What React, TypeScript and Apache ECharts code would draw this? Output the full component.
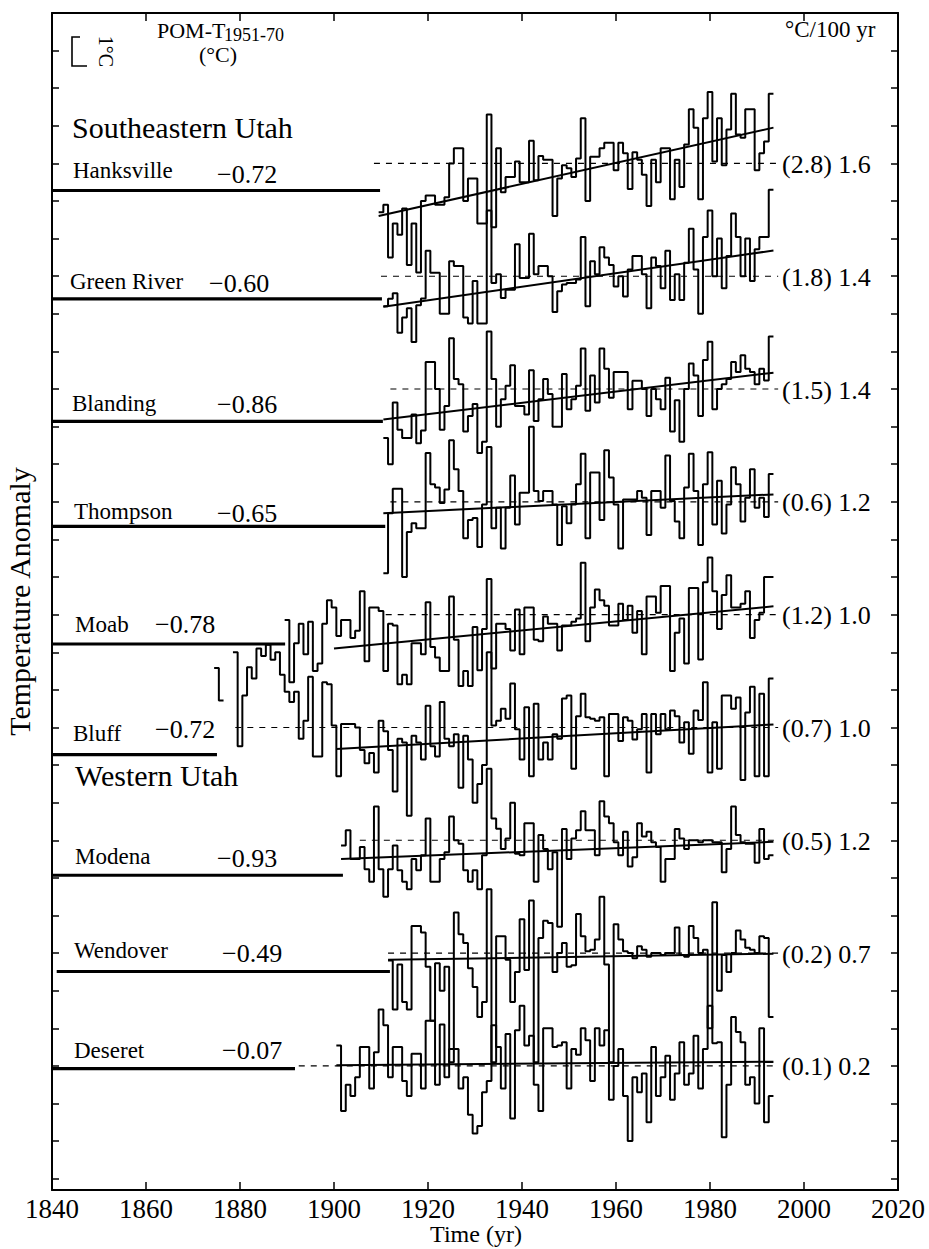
import React, { useEffect, useRef } from "react";
import * as echarts from "echarts";

const FONT = '"Liberation Serif", "Times New Roman", Times, serif';

// ---------- axes ----------
const X_MIN = 1840;
const X_MAX = 2020;
const X_STEP = 20;
const Y_MIN = -0.3;
const Y_MAX = 31; // 1 unit = 1 degC
const Y_TICKS = Array.from({ length: 32 }, (_, k) => k);
const X_TITLE = "Time (yr)";
const Y_TITLE = "Temperature Anomaly";

// ---------- stations ----------
const stationNames = ["Hanksville", "Green River", "Blanding", "Thompson", "Moab", "Bluff", "Modena", "Wendover", "Deseret"];
const stationLevels = [27, 24, 21, 18, 15, 12, 9, 6, 3]; // offset of each station's 1951-70 mean
const pomValues = [-0.72, -0.6, -0.86, -0.65, -0.78, -0.72, -0.93, -0.49, -0.07];
const pomLabels = ["\u22120.72", "\u22120.60", "\u22120.86", "\u22120.65", "\u22120.78", "\u22120.72", "\u22120.93", "\u22120.49", "\u22120.07"];
const pomFrom = [1840, 1840, 1840, 1840, 1840, 1840, 1840, 1841, 1840];
const pomTo = [1909.8, 1910.2, 1910.4, 1910.9, 1889.6, 1875.1, 1901.9, 1911.9, 1891.7];
const meanFrom = [1908.5, 1910, 1912, 1912, 1911, 1879, 1905.5, 1911.5, 1892.5];
const meanTo = 1994.5;
const trendRates = [2.8, 1.8, 1.5, 0.6, 1.2, 0.7, 0.5, 0.2, 0.1];
const secondNumbers = ["1.6", "1.4", "1.4", "1.2", "1.0", "1.0", "1.2", "0.7", "0.2"];
const trendFrom = [1909.5, 1910.5, 1910.5, 1910.5, 1900, 1900.5, 1901.5, 1911.5, 1900.5];
const trendFromValue = [-1.4, -0.81, -0.81, -0.3, -0.9, -0.57, -0.5, -0.18, 0.02];
const trendTo = 1993.5;
const firstYears = [1910, 1911, 1911, 1911, 1890, 1875, 1902, 1912, 1901];

// yearly anomalies (degC, relative to 1951-70 mean)
const hanksville = [
  -1.3, -1.1, -2.5, -1.6, -1.9, -1.2, -2.7, -1.6, -2.9, -1.0,
  -0.85, -0.85, -1.1, -1.1, -0.9, 0.0, 0.4, 0.4, -1.0, -0.4,
  -0.4, -1.6, -1.6, 1.3, -1.7, 0.4, -0.77, -0.36, -0.36, 0.05,
  -0.5, -0.5, 0.6, -0.45, 0.2, 0.1, 0.1, -1.4, -0.4, -0.05,
  -0.13, -0.36, 0.13, 1.2, -1.0, 0.18, 0.18, 0.4, 0.55, 0.55,
  -0.18, 0.55, 0.27, -0.68, 0.3, 0.1, -0.3, -1.13, 0.1, -0.5,
  0.4, 0.4, -0.95, 0.1, -0.63, 0.5, 1.44, 0.95, -0.95, 1.2,
  1.9, 0.05, 1.2, -0.05, 0.9, 1.85, 0.77, 0.68, 1.44, 1.44,
  -0.18, 0.27, 0.58, 1.85,
];
const greenRiver = [
  -0.8, -0.6, -0.45, -1.5, -1.1, -0.85, -1.75, -0.77, -0.59, 0.68,
  0.09, 0.09, -1.0, -1.0, 0.4, 0.27, 0.27, -1.1, -1.26, -0.13,
  -1.26, -1.26, 1.75, -0.18, 0.05, -0.58, -0.36, -0.36, 0.85, -0.05,
  -0.05, 1.13, 0.05, 0.27, 0.27, 0.0, -0.95, -0.4, -0.22, -0.18,
  -0.18, -0.09, 1.04, -0.8, 0.4, 0.05, 0.77, 0.5, 0.3, -0.27,
  0.0, -0.54, 0.18, 0.54, 0.54, 0.05, -0.85, 0.5, 0.27, -0.32,
  0.68, -0.63, 0.05, -0.63, 0.36, 1.26, 0.18, -1.0, 1.04, 1.75,
  0.0, 1.0, -0.32, 0.54, 1.67, 1.04, 0.0, 1.0, -0.13, 0.72,
  1.04, 1.04, 2.3,
];
const blanding = [
  -1.3, -2.0, -0.36, -1.08, -1.3, -1.3, -0.68, -1.44, -1.1, 0.72,
  0.72, 0.0, -1.08, -0.45, 1.35, 0.27, 0.13, -1.13, -0.72, -0.4,
  -1.7, -1.4, 1.53, 0.27, -1.0, -0.27, 0.09, 0.63, -0.45, -0.45,
  -0.68, 0.5, -0.85, -0.27, 0.27, -0.13, -1.0, -1.0, 0.4, -0.54,
  -0.27, 0.09, 1.08, -0.58, 0.36, -0.36, 1.08, 0.54, -0.23, 0.45,
  0.45, 0.45, -0.54, 0.22, 0.22, 0.0, -0.72, 0.0, -0.27, -0.54,
  0.3, -1.13, -0.3, -1.4, 0.0, 0.68, 0.36, -0.72, 0.77, 1.26,
  -0.54, 0.0, 0.13, 0.27, 0.72, 0.45, 0.9, 0.54, 0.45, 0.13,
  0.54, 0.23, 1.4,
];
const thompson = [
  -1.9, -0.3, 0.35, 0.35, -2.0, -0.8, -0.57, -0.7, -0.7, 1.3,
  0.47, 0.38, -0.03, 0.33, 1.64, 0.87, 0.29, -0.97, -0.48, -0.43,
  -1.2, -0.07, 1.46, -0.7, -0.16, -1.24, -0.16, 0.7, -0.6, 0.24,
  0.24, 2.0, 0.29, 0.02, 0.29, 0.29, -0.07, -1.15, -0.12, -0.57,
  -0.07, 0.47, 1.28, -0.97, 0.78, 0.78, -0.48, 1.37, 0.65, -0.07,
  -1.24, 0.06, 0.06, 0.06, 0.29, 0.11, -0.88, 0.29, 0.29, -0.16,
  1.23, 0.02, -0.52, -0.97, 0.38, 1.28, 0.29, -1.15, 0.47, 1.32,
  -0.6, 0.56, -0.84, -0.07, 0.92, 0.47, -0.52, 0.11, 0.87, -0.16,
  0.11, -0.4, 0.74,
];
const moab = [
  -0.14, -1.8, -0.76, -0.24, -1.05, -0.19, -1.5, -1.3, -0.24, 0.38,
  0.19, -0.57, -0.14, -0.14, -0.62, -0.43, 0.62, -1.24, 0.19, 0.19,
  0.1, -1.5, -0.24, -0.29, -1.85, -1.6, -1.85, -0.76, -0.76, -1.05,
  0.33, -0.86, -1.14, -1.5, -1.5, 0.48, -0.67, -1.9, -1.5, -1.9,
  -0.33, -1.48, -0.38, 0.95, -1.43, -0.24, -0.24, -0.38, -0.95, 0.14,
  -1.05, 0.19, 0.19, -0.67, -0.71, -0.05, -0.24, -0.24, -0.95, -0.29,
  -0.29, -0.19, -0.1, 1.38, -0.71, 0.19, 0.67, 0.38, 0.24, -0.29,
  -0.29, 0.29, -0.14, 0.24, -0.48, 0.1, -1.05, 0.48, 0.48, 0.05,
  0.76, 0.76, -1.5, -0.48, -0.1, -1.3, 0.71, 0.71, -1.19, 0.86,
  1.52, 0.62, -0.38, 0.52, 1.05, 0.19, 0.19, 0.29, 0.62, -0.62,
  -0.14, 0.05, 1.0, 1.0,
];
const bluff = [
  1.58, 0.72, null, null, 2.0, -0.5, 0.85, 1.6, 1.3, 2.1,
  1.9, 2.2, 1.8, 2.0, 1.4, 0.95, 0.68, 0.95, -0.3, 0.18,
  1.35, -0.77, -0.77, 1.2, 1.15, 0.05, -1.3, 0.09, 0.09, 0.09,
  0.0, -0.6, -0.95, -0.68, -1.2, 0.18, -0.1, -0.6, -1.7, -0.3,
  -0.4, -2.35, -0.22, -0.4, -0.85, 0.58, -0.5, -0.77, 0.68, -0.3,
  -0.5, -0.18, -1.6, -0.22, -0.85, -2.0, -1.5, -1.0, 2.0, 0.05,
  0.18, 0.5, 0.23, 1.17, -0.05, -0.85, 0.54, -1.3, 0.63, -0.85,
  -0.4, -0.85, -0.18, -0.3, 0.77, 0.85, -1.1, 0.3, 0.9, 0.27,
  0.23, 0.18, 0.27, -1.3, 0.36, 0.36, -0.36, 0.27, 0.18, -0.32,
  -0.05, 0.36, -1.2, 0.36, -0.18, 0.36, -0.05, 0.45, 0.3, -0.4,
  0.14, -0.7, 0.45, 0.2, 1.2, -1.2, 0.14, -1.1, 0.85, 0.85,
  0.5, 0.8, -1.4, 0.4, 1.08, -1.3, 0.9, -1.3, 1.3,
];
const modena = [
  -0.14, 0.27, -0.5, -0.5, -0.18, -0.77, -1.1, 0.9, -0.77, -1.5,
  -0.77, -0.14, -0.8, -1.1, -1.3, -0.5, -0.8, -0.4, 0.58, -1.1,
  -1.1, -0.5, -0.32, 0.63, 0.0, -0.09, -0.8, -1.1, -0.8, -1.3,
  -0.4, 1.9, 0.58, 0.31, -0.23, 0.05, 1.0, -0.36, -0.4, 0.45,
  0.45, -1.1, 0.14, -0.23, -0.77, -0.32, -2.3, 0.3, -0.5, 0.05,
  0.27, 0.77, 0.27, 0.27, -0.4, 1.04, 0.63, 0.45, -0.05, -0.4,
  0.23, -0.7, -0.45, 0.45, 0.1, 0.23, -0.05, -0.18, -1.1, -0.5,
  -0.5, 0.3, 0.05, -0.23, 0.0, 0.0, -0.05, 0.0, 0.0, -0.05,
  -0.05, -0.85, -0.23, 0.9, 0.14, -0.05, -0.09, -0.09, -0.6, 0.3,
  -0.5, -0.4,
];
const wendover = [
  -0.2, -1.5, -0.3, -1.3, -1.5, 0.72, 0.72, 0.55, -0.36, -1.8,
  -0.27, -1.0, -0.36, -2.9, 1.08, 0.5, 0.27, -0.4, -0.9, -1.7,
  -1.3, 1.7, -2.9, 0.45, 0.45, -0.18, -1.3, -0.5, 0.9, -0.45,
  1.4, -2.9, 0.4, 0.86, 0.8, -0.5, 0.0, 0.27, -0.36, -0.32,
  1.04, 0.45, 0.05, 0.09, 0.36, 1.5, -0.3, -2.9, 0.77, 0.36,
  0.05, 0.0, -0.14, 0.18, 0.09, -0.1, 0.0, 0.0, -0.05, 0.0,
  0.0, 0.68, -0.05, -0.1, 0.72, 0.4, 0.0, 0.09, -2.0, 1.35,
  -1.0, -0.05, -0.5, 0.0, 0.6, 0.36, 0.14, 0.09, 0.0, 0.45,
  0.4, -1.7,
];
const deseret = [
  0.54, -1.2, -0.5, -0.8, -0.3, 0.5, 0.5, -0.6, 0.36, 1.5,
  1.08, -0.3, 0.5, 0.5, -0.4, -0.8, 0.32, 0.32, -0.6, 1.2,
  1.2, -0.5, 1.1, -0.3, 0.45, 0.45, -0.6, -0.3, -1.3, -1.8,
  -1.6, -0.7, -0.4, 1.08, 0.5, -0.6, 0.85, -1.4, 0.95, 1.6,
  0.54, 0.8, -0.5, -1.2, 1.0, 1.0, 0.5, 0.54, 0.63, -0.6,
  0.45, 0.3, 1.0, 0.68, -0.4, 1.0, 0.54, 0.95, -0.9, 0.0,
  0.45, -0.8, -2.0, -0.3, -0.7, -0.2, -1.5, 0.5, -0.8, -0.3,
  0.27, -0.9, -0.2, 0.63, -0.5, -0.2, 0.8, -0.6, 0.45, 1.6,
  0.6, 0.63, -1.9, -0.5, 1.3, 0.9, 0.63, -0.5, -0.3, -1.0,
  1.0, -1.5, -0.8,
];
const stationSeries = [hanksville, greenRiver, blanding, thompson, moab, bluff, modena, wendover, deseret];

// ---------- layout (pixels) ----------
const W = 929;
const H = 1249;
const GRID = { left: 52, right: 31, top: 13, bottom: 59 };
const unitPx = (H - GRID.top - GRID.bottom) / (Y_MAX - Y_MIN);
const levelPx = (v: number) => GRID.top + (Y_MAX - v) * unitPx;
const nameX = [73, 70, 72, 74, 75, 73, 75, 74, 74];
const nameY = [170, 281, 403, 511, 624, 733, 856, 950, 1050];
const pomX = [217, 209, 217, 217, 155, 155, 217, 222, 222];
const pomY = [174, 283, 404, 513, 624, 729, 858, 953, 1050];
const RIGHT_LABEL_X = 782;

function stepData(first: number, vals: (number | null)[], base: number) {
  const out: any[] = [];
  for (let i = 0; i < vals.length; i++) {
    const v = vals[i];
    const x = first + i - 0.5;
    if (v == null) {
      out.push([x, "-"]);
      continue;
    }
    out.push([x, base + v]);
    const next = vals[i + 1];
    if (i === vals.length - 1 || next == null) out.push([x + 1, base + v]);
  }
  return out;
}

function txt(text: string, x: number, y: number, size: number, extra: any = {}) {
  return {
    type: "text",
    x,
    y,
    silent: true,
    ...extra,
    style: {
      text,
      font: `${size}px ${FONT}`,
      fill: "#000",
      textAlign: "left",
      textVerticalAlign: "middle",
      verticalAlign: "middle",
      ...(extra.style || {}),
    },
  };
}

export default function App() {
  const ref = useRef<HTMLDivElement>(null);

  useEffect(() => {
    if (!ref.current) return;
    const chart = echarts.init(ref.current, null, { renderer: "svg" });
    const black = "#000";
    const series: any[] = [];

    stationNames.forEach((name, i) => {
      const base = stationLevels[i];
      series.push({
        name: name + " mean",
        type: "line",
        data: [
          [meanFrom[i], base],
          [meanTo, base],
        ],
        symbol: "none",
        silent: true,
        lineStyle: { color: black, width: 1.1, type: [6, 6] },
        z: 2,
      });
      series.push({
        name: name + " POM",
        type: "line",
        data: [
          [pomFrom[i], base + pomValues[i]],
          [pomTo[i], base + pomValues[i]],
        ],
        symbol: "none",
        silent: true,
        lineStyle: { color: black, width: 3.2 },
        z: 3,
      });
      series.push({
        name,
        type: "line",
        step: "end",
        data: stepData(firstYears[i], stationSeries[i], base),
        symbol: "none",
        silent: true,
        connectNulls: false,
        lineStyle: { color: black, width: 2 },
        z: 4,
      });
      const v0 = trendFromValue[i];
      const v1 = v0 + (trendRates[i] * (trendTo - trendFrom[i])) / 100;
      series.push({
        name: name + " trend",
        type: "line",
        data: [
          [trendFrom[i], base + v0],
          [trendTo, base + v1],
        ],
        symbol: "none",
        silent: true,
        lineStyle: { color: black, width: 2 },
        z: 5,
      });
    });

    const graphics: any[] = [];
    stationNames.forEach((name, i) => {
      graphics.push(txt(name, nameX[i], nameY[i], 23));
      graphics.push(txt(pomLabels[i], pomX[i], pomY[i], 26));
      graphics.push(
        txt(`(${trendRates[i].toFixed(1)}) ${secondNumbers[i]}`, RIGHT_LABEL_X, levelPx(stationLevels[i]) + 1, 26)
      );
    });
    graphics.push(txt("Southeastern Utah", 72, 127, 30));
    graphics.push(txt("Western Utah", 75, 775, 30));
    graphics.push(txt("POM-T", 157, 30, 22));
    graphics.push(txt("1951-70", 224, 35, 18));
    graphics.push(txt("(°C)", 199, 54, 22));
    graphics.push(txt("°C/100 yr", 785, 29, 23));
    graphics.push(txt(X_TITLE, 476, 1234, 24, { style: { textAlign: "center" } }));
    const bTop = 37;
    const bBot = 66;
    graphics.push(
      txt("1°C", 106, (bTop + bBot) / 2, 20, { rotation: -Math.PI / 2, style: { textAlign: "center" } })
    );
    graphics.push({
      type: "polyline",
      silent: true,
      shape: {
        points: [
          [80, bTop],
          [72, bTop],
          [72, bBot],
          [87, bBot],
        ],
      },
      style: { stroke: black, lineWidth: 1.6, fill: "none" },
    });

    const xAxisBase = {
      type: "value",
      min: X_MIN,
      max: X_MAX,
      interval: X_STEP,
      splitLine: { show: false },
      axisLine: { show: true, onZero: false, lineStyle: { color: black, width: 2 } },
      axisTick: { show: true, inside: true, length: 8, lineStyle: { color: black, width: 1.5 } },
    };
    const yAxisBase = {
      type: "value",
      min: Y_MIN,
      max: Y_MAX,
      splitLine: { show: false },
      axisLabel: { show: false, customValues: Y_TICKS },
      axisLine: { show: true, onZero: false, lineStyle: { color: black, width: 2 } },
      axisTick: {
        show: true,
        inside: true,
        length: 7,
        customValues: Y_TICKS,
        lineStyle: { color: black, width: 1.5 },
      },
    };

    chart.setOption({
      animation: false,
      backgroundColor: "#fff",
      grid: { ...GRID, containLabel: false, outerBoundsMode: "none" },
      xAxis: [
        {
          ...xAxisBase,
          position: "bottom",
          axisLabel: {
            show: true,
            margin: 5,
            fontFamily: FONT,
            fontSize: 27,
            lineHeight: 27,
            color: black,
            formatter: (v: number) => String(v),
          },
        },
        {
          ...xAxisBase,
          position: "top",
          axisLabel: { show: false },
        },
      ],
      yAxis: [
        {
          ...yAxisBase,
          position: "left",
          name: Y_TITLE,
          nameLocation: "middle",
          nameGap: 18,
          nameRotate: 90,
          nameTextStyle: { fontFamily: FONT, fontSize: 30, lineHeight: 30, color: black },
        },
        {
          ...yAxisBase,
          position: "right",
        },
      ],
      series,
      graphic: graphics,
    });

    return () => chart.dispose();
  }, []);

  return (
    <div
      ref={ref}
      style={{ position: "absolute", left: 0, top: 0, width: W, height: H, background: "#fff" }}
    />
  );
}
